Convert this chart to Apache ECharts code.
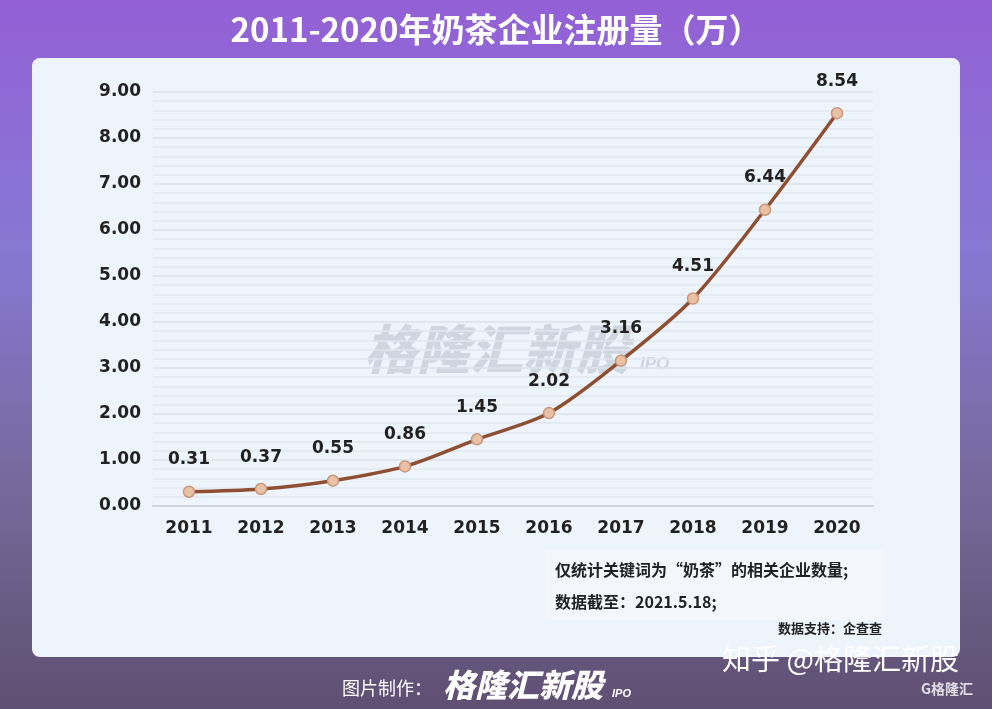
<!DOCTYPE html>
<html>
<head>
<meta charset="utf-8">
<script src="https://cdn.jsdelivr.net/npm/echarts@6/dist/echarts.min.js"></script>
<style>
  html, body { margin: 0; padding: 0; }
  #chart { width: 992px; height: 709px; }
</style>
</head>
<body>
<div id="chart"></div>
<script>
// 年份与注册量（万）
const years = ["2011", "2012", "2013", "2014", "2015", "2016", "2017", "2018", "2019", "2020"];
const counts = [0.31, 0.37, 0.55, 0.86, 1.45, 2.02, 3.16, 4.51, 6.44, 8.54];

const cjk = '"Noto Sans CJK SC", "Noto Sans", sans-serif';

const chart = echarts.init(document.getElementById("chart"));
const option = {
  backgroundColor: {
    type: "linear", x: 0, y: 0, x2: 0, y2: 1,
    colorStops: [
      { offset: 0, color: "#9460d6" },
      { offset: 0.35, color: "#8678d3" },
      { offset: 0.7, color: "#766899" },
      { offset: 1, color: "#5f4f72" }
    ]
  },
  title: {
    text: "2011-2020年奶茶企业注册量（万）",
    left: "center",
    top: 8,
    textStyle: { color: "#fff", fontSize: 33, fontWeight: "bold", fontFamily: cjk }
  },
  graphic: [
    // 白色面板
    { type: "rect", z: -10, shape: { x: 32, y: 58, width: 928, height: 599, r: 8 },
      style: { fill: "#eef4fc" } },
    // 注释框
    { type: "rect", z: -5, shape: { x: 545, y: 550, width: 340, height: 70, r: 4 },
      style: { fill: "#f3f7fc" } },
    // 水印
    { type: "text", z: -1, left: 364, top: 322,
      style: { text: "格隆汇新股", fill: "rgba(170,178,190,0.45)", font: "italic 900 53px " + cjk } },
    { type: "text", z: -1, left: 640, top: 356,
      style: { text: "IPO", fill: "rgba(170,178,190,0.45)", font: "italic bold 17px sans-serif" } },
    { type: "text", left: 555, top: 562,
      style: { text: "仅统计关键词为“奶茶”的相关企业数量;", fill: "#222", font: "bold 16px " + cjk } },
    { type: "text", left: 555, top: 594,
      style: { text: "数据截至：2021.5.18;", fill: "#222", font: "bold 16px " + cjk } },
    { type: "text", left: 778, top: 622,
      style: { text: "数据支持：企查查", fill: "#222", font: "bold 13px " + cjk } },
    // 底部
    { type: "text", left: 342, top: 679,
      style: { text: "图片制作：", fill: "#fff", font: "18px " + cjk } },
    { type: "text", left: 443, top: 669,
      style: { text: "格隆汇新股", fill: "#fff", font: "italic 900 32px " + cjk } },
    { type: "text", left: 612, top: 688,
      style: { text: "IPO", fill: "#fff", font: "italic bold 11px sans-serif" } },
    { type: "text", left: 722, top: 644,
      style: { text: "知乎 @格隆汇新股", fill: "#fff", font: "29px " + cjk } },
    { type: "text", left: 921, top: 682,
      style: { text: "G格隆汇", fill: "rgba(255,255,255,0.8)", font: "bold 14px " + cjk } }
  ],
  grid: { left: 153, right: 119, top: 92, bottom: 203, containLabel: false },
  xAxis: {
    type: "category",
    data: years,
    boundaryGap: true,
    axisLine: { show: true, lineStyle: { color: "#cfd5dd", width: 2 } },
    axisTick: { show: false },
    axisLabel: { color: "#222", fontSize: 17, fontWeight: "bold", margin: 14, fontFamily: "DejaVu Sans" }
  },
  yAxis: {
    type: "value",
    min: 0,
    max: 9,
    interval: 1,
    axisLine: { show: false },
    axisTick: { show: false },
    axisLabel: {
      color: "#222", fontSize: 17, fontWeight: "bold", margin: 12, fontFamily: "DejaVu Sans",
      formatter: v => v.toFixed(2)
    },
    splitLine: { lineStyle: { color: "#dde3ea", width: 1.5 } },
    minorTick: { show: false, splitNumber: 5 },
    minorSplitLine: { show: true, lineStyle: { color: "#e2e7ee", width: 1.5 } }
  },
  series: [{
    type: "line",
    data: counts,
    smooth: 0.3,
    symbol: "circle",
    symbolSize: 11,
    lineStyle: { color: "#8f4f32", width: 3.5 },
    itemStyle: { color: "#e9c2a6", borderColor: "#c9977a", borderWidth: 1.5 },
    label: {
      show: true,
      position: "top",
      distance: 17,
      color: "#222",
      fontSize: 17,
      fontWeight: "bold",
      fontFamily: "DejaVu Sans",
      formatter: p => p.value.toFixed(2)
    }
  }]
};
chart.setOption(option);
</script>
</body>
</html>
